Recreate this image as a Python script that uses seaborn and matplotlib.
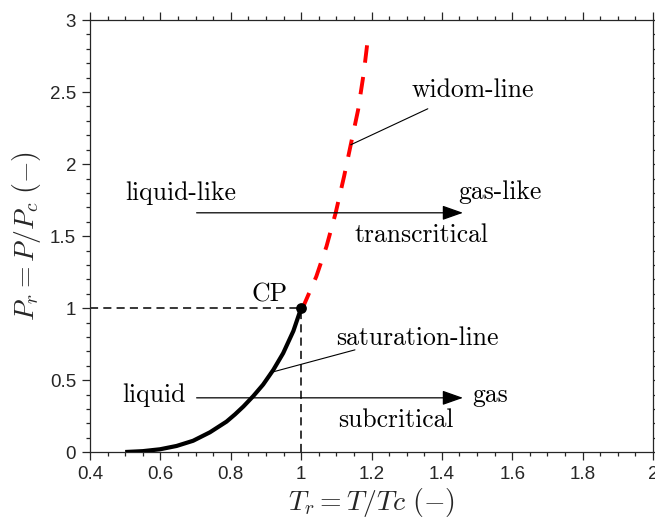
import numpy as np
import pandas as pd
import matplotlib
matplotlib.use('Agg')
import matplotlib.pyplot as plt
import seaborn as sns
from matplotlib.ticker import MultipleLocator

# ---- data ----
sat_tr = [0.50, 0.55, 0.599, 0.646, 0.693, 0.741, 0.788, 0.812, 0.836, 0.864,
          0.892, 0.921, 0.949, 0.978, 1.00]
sat_pr = [0.002, 0.008, 0.021, 0.044, 0.080, 0.139, 0.213, 0.263, 0.318, 0.390,
          0.470, 0.572, 0.688, 0.842, 1.00]
widom_tr = [1.00, 1.006, 1.043, 1.072, 1.098, 1.122, 1.141, 1.162, 1.178, 1.191]
widom_pr = [1.00, 1.011, 1.219, 1.428, 1.660, 1.914, 2.134, 2.377, 2.632, 2.898]
cp_tr, cp_pr = [1.0], [1.0]

xlim = (0.4, 2.0)
ylim = (0.0, 3.0)
xticks = [0.4, 0.6, 0.8, 1.0, 1.2, 1.4, 1.6, 1.8, 2.0]
xticklabels = ['0.4', '0.6', '0.8', '1', '1.2', '1.4', '1.6', '1.8', '2']
yticks = [0, 0.5, 1, 1.5, 2, 2.5, 3]
yticklabels = ['0', '0.5', '1', '1.5', '2', '2.5', '3']

# annotation texts (label, x, y)
labels = [
    ('widom-line', 1.488, 2.516),
    ('liquid-like', 0.659, 1.80),
    ('gas-like', 1.565, 1.808),
    ('transcritical', 1.342, 1.509),
    ('CP', 0.911, 1.093),
    ('saturation-line', 1.330, 0.794),
    ('liquid', 0.582, 0.398),
    ('gas', 1.538, 0.398),
    ('subcritical', 1.269, 0.224),
]
# arrows (x_start, y_start, x_end, y_end)
arrows = [
    (0.703, 1.662, 1.46, 1.662),
    (0.703, 0.378, 1.46, 0.378),
]
# leader lines (x_start, y_start, x_end, y_end)
leaders = [
    (1.360, 2.384, 1.141, 2.134),
    (1.153, 0.711, 0.911, 0.552),
]

sat = pd.DataFrame({'Tr': sat_tr, 'Pr': sat_pr})
wid = pd.DataFrame({'Tr': widom_tr, 'Pr': widom_pr})
cp = pd.DataFrame({'Tr': cp_tr, 'Pr': cp_pr})

sns.set_theme(style='ticks')
plt.rcParams['font.family'] = ['Liberation Sans', 'DejaVu Sans']
plt.rcParams['mathtext.fontset'] = 'cm'

ink = '#262626'
fig = plt.figure(figsize=(6.55, 5.22), dpi=100)
ax = fig.add_axes([90 / 655, (522 - 452.3) / 522, 563 / 655, (452.3 - 20) / 522])

# CP guide lines
ax.plot([xlim[0], cp_tr[0]], [cp_pr[0], cp_pr[0]], color='black', lw=1.1,
        dashes=(5.3, 3.4), zorder=2)
ax.plot([cp_tr[0], cp_tr[0]], [ylim[0], cp_pr[0]], color='black', lw=1.1,
        dashes=(5.3, 3.4), zorder=2)

sns.lineplot(data=sat, x='Tr', y='Pr', sort=False, color='black', lw=3.0,
             ax=ax, zorder=4, solid_capstyle='butt', solid_joinstyle='round')
sns.lineplot(data=wid, x='Tr', y='Pr', sort=False, color='red', lw=2.8,
             ax=ax, zorder=3)
ax.lines[-1].set_dashes((4.5, 3.7))
sns.scatterplot(data=cp, x='Tr', y='Pr', color='black', s=60, ax=ax,
                zorder=5, edgecolor='black', linewidth=0)

for (x0, y0, x1, y1) in arrows:
    ax.annotate('', xy=(x1, y1), xytext=(x0, y0),
                arrowprops=dict(arrowstyle='-|>,head_length=0.85,head_width=0.3',
                                color='black', lw=0.9, shrinkA=0, shrinkB=0,
                                mutation_scale=15))
for (x0, y0, x1, y1) in leaders:
    ax.annotate('', xy=(x1, y1), xytext=(x0, y0),
                arrowprops=dict(arrowstyle='-', color='black', lw=0.8,
                                shrinkA=0, shrinkB=0))
for (t, x, y) in labels:
    ax.text(x, y, t, fontfamily='cmr10', fontsize=18.5, ha='center',
            va='center', color='black')

ax.set_xlim(*xlim)
ax.set_ylim(*ylim)
ax.set_xticks(xticks)
ax.set_xticklabels(xticklabels)
ax.set_yticks(yticks)
ax.set_yticklabels(yticklabels)
ax.xaxis.set_minor_locator(MultipleLocator(0.05))
ax.yaxis.set_minor_locator(MultipleLocator(0.1))
ax.tick_params(which='both', direction='out', top=True, right=True,
               color=ink, labelcolor=ink, labelsize=13.5, width=0.9)
ax.tick_params(which='major', length=6, pad=4)
ax.tick_params(which='minor', length=3)
for s in ax.spines.values():
    s.set_visible(True)
    s.set_color(ink)
    s.set_linewidth(0.9)

ax.set_xlabel(r'$T_r = T/Tc\ (-)$', fontsize=20, color=ink, labelpad=2)
ax.set_ylabel(r'$P_r = P/P_c\ (-)$', fontsize=20, color=ink, labelpad=5)

fig.savefig('out.png', dpi=100)
